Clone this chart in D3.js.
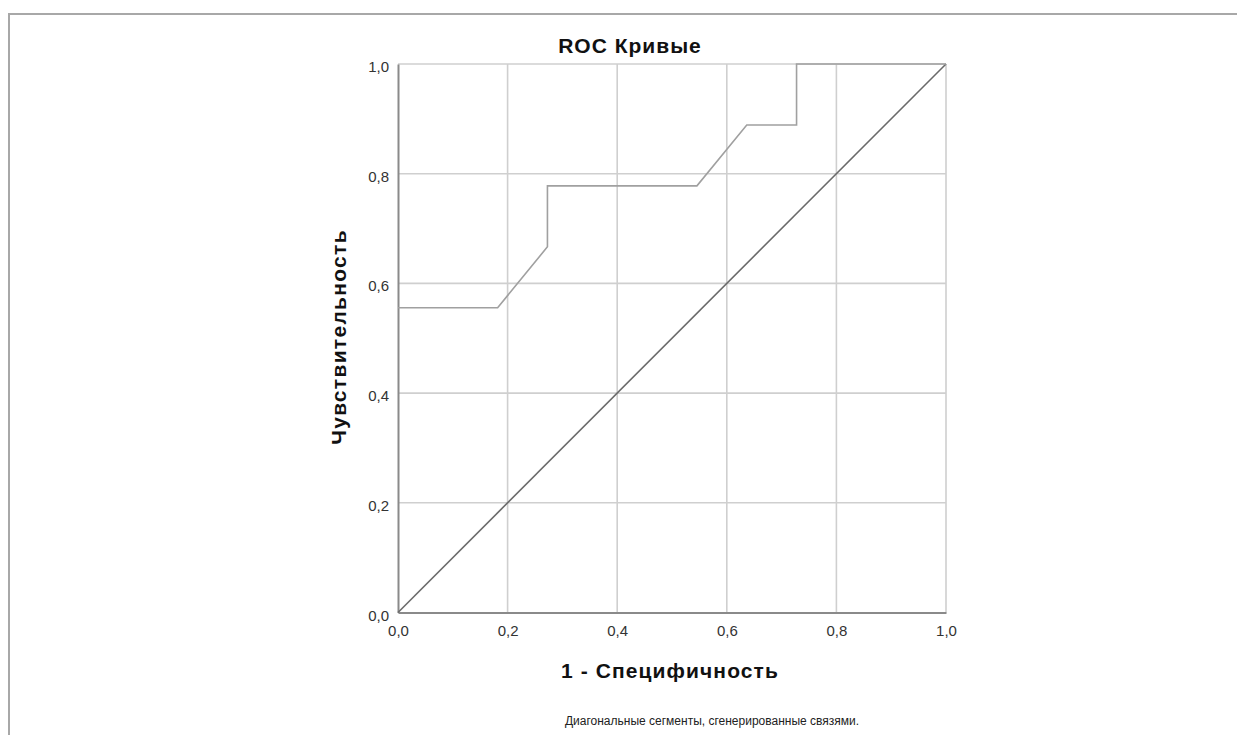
<!DOCTYPE html>
<html><head><meta charset="utf-8">
<script src="https://cdn.jsdelivr.net/npm/d3@7"></script>
<style>body{margin:0;background:#fff;} svg{display:block;font-family:"Liberation Sans",Arial,sans-serif;}</style>
</head><body>
<script>
const rocFpr = [0, 0.1818, 0.2727, 0.2727, 0.5455, 0.6364, 0.7273, 0.7273, 1.0];
const rocTpr = [0.5556, 0.5556, 0.6667, 0.7778, 0.7778, 0.8889, 0.8889, 1.0, 1.0];
const refX = [0, 1];
const refY = [0, 1];
const ticks = [0, 0.2, 0.4, 0.6, 0.8, 1.0];
const tickLabels = ["0,0","0,2","0,4","0,6","0,8","1,0"];

const W = 1237, H = 735;
const svg = d3.select("body").append("svg").attr("width", W).attr("height", H);

// frame
svg.append("path").attr("d", "M9,735 V14 H1237").attr("fill","none").attr("stroke","#a8a8a8").attr("stroke-width",2);

const x = d3.scaleLinear().domain([0,1]).range([398, 946]);
const y = d3.scaleLinear().domain([0,1]).range([612.5, 64]);

const g = svg.append("g");
// grid
g.selectAll(".vg").data(ticks.slice(1)).join("line")
  .attr("x1", d=>x(d)).attr("x2", d=>x(d)).attr("y1", y(0)).attr("y2", y(1))
  .attr("stroke","#cfcfcf").attr("stroke-width",1.6);
g.selectAll(".hg").data(ticks.slice(1)).join("line")
  .attr("y1", d=>y(d)).attr("y2", d=>y(d)).attr("x1", x(0)).attr("x2", x(1))
  .attr("stroke","#cfcfcf").attr("stroke-width",1.6);

// axes
const xAxis = d3.axisBottom(x).tickValues(ticks).tickFormat((d,i)=>tickLabels[i]).tickSize(0).tickPadding(13);
const yAxis = d3.axisLeft(y).tickValues(ticks).tickFormat((d,i)=>tickLabels[i]).tickSize(0).tickPadding(9);
const gx = svg.append("g").attr("transform",`translate(0,${y(0)})`).call(xAxis);
const gy = svg.append("g").attr("transform",`translate(${x(0)},0)`).call(yAxis);
[gx, gy].forEach(a => {
  a.select(".domain").attr("stroke","#8a8a8a").attr("stroke-width",2);
  a.selectAll("text").attr("font-size","15px").attr("fill","#333").attr("font-family","Liberation Sans, Arial, sans-serif");
});
gy.selectAll("text").attr("dy","0.5em");
gx.selectAll("text").attr("dy","0.73em");

// reference diagonal
const line = d3.line().x(d=>x(d[0])).y(d=>y(d[1]));
svg.append("path").datum(refX.map((v,i)=>[v, refY[i]])).attr("d", line)
  .attr("fill","none").attr("stroke","#6a6a6a").attr("stroke-width",1.6);
// ROC curve
svg.append("path").datum(rocFpr.map((v,i)=>[v, rocTpr[i]])).attr("d", line)
  .attr("fill","none").attr("stroke","#a0a0a0").attr("stroke-width",1.6);

// titles
svg.append("text").attr("x", 630).attr("y", 53).attr("text-anchor","middle")
  .attr("font-size","21px").attr("letter-spacing","1px").attr("font-weight","bold").attr("fill","#111").text("ROC Кривые");
svg.append("text").attr("x", 670).attr("y", 678).attr("text-anchor","middle")
  .attr("font-size","21px").attr("letter-spacing","1.1px").attr("font-weight","bold").attr("fill","#111").text("1 - Специфичность");
svg.append("text").attr("transform","translate(346,337) rotate(-90)").attr("text-anchor","middle")
  .attr("font-size","21px").attr("letter-spacing","1.3px").attr("font-weight","bold").attr("fill","#111").text("Чувствительность");
svg.append("text").attr("x", 712).attr("y", 725).attr("text-anchor","middle")
  .attr("font-size","12px").attr("fill","#222").text("Диагональные сегменты, сгенерированные связями.");
</script>
</body></html>
